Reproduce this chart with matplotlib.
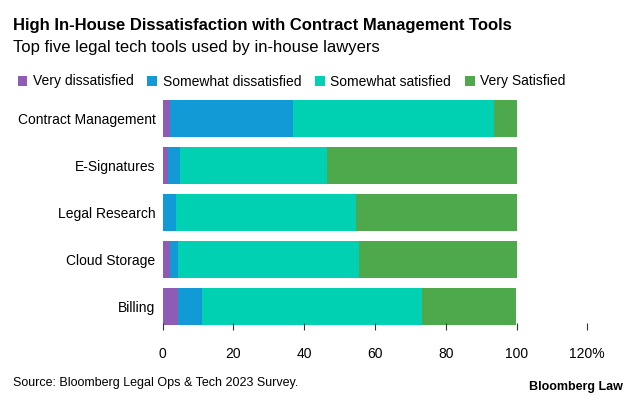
import matplotlib.pyplot as plt

tools = ["Contract Management", "E-Signatures", "Legal Research", "Cloud Storage", "Billing"]
very_dis = [2.1, 1.6, 0.0, 2.1, 4.3]
some_dis = [34.8, 3.3, 3.8, 2.2, 6.8]
some_sat = [56.7, 41.7, 51.0, 51.3, 62.3]
very_sat = [6.4, 53.4, 45.2, 44.4, 26.6]
labels = ["Very dissatisfied", "Somewhat dissatisfied", "Somewhat satisfied", "Very Satisfied"]
colors = ["#8e5bb5", "#119ad6", "#00d1b2", "#4ea94d"]

plt.rcParams['font.family'] = ['Liberation Sans', 'DejaVu Sans']
fig = plt.figure(figsize=(6.33, 4.01), dpi=100)
ax = fig.add_axes([162.5 / 633, 1 - 330 / 401, (587.3 - 162.5) / 633, (330 - 95) / 401])

y = list(range(len(tools)))[::-1]
left = [0] * len(tools)
for vals, lab, c in zip([very_dis, some_dis, some_sat, very_sat], labels, colors):
    ax.barh(y, vals, left=left, color=c, height=0.8, label=lab)
    left = [a + b for a, b in zip(left, vals)]

ax.set_xlim(0, 120)
ax.set_ylim(-0.5, 4.5)
ax.set_yticks(y)
ax.set_yticklabels(tools, fontsize=10)
ax.set_xticks([0, 20, 40, 60, 80, 100, 120])
ax.set_xticklabels(["0", "20", "40", "60", "80", "100", "120%"], fontsize=10)
for s in ax.spines.values():
    s.set_visible(False)
ax.tick_params(axis='y', length=0, pad=5)
ax.tick_params(axis='x', length=5, color="#333333", pad=12, direction='in')

fig.text(13 / 633, 1 - 30 / 401, "High In-House Dissatisfaction with Contract Management Tools",
         fontsize=12, fontweight='bold')
fig.text(13 / 633, 1 - 52 / 401, "Top five legal tech tools used by in-house lawyers", fontsize=12)
handles, labs = ax.get_legend_handles_labels()
fig.legend(handles, labs, loc='upper left', bbox_to_anchor=(5 / 633, 1 - 62 / 401), ncol=4,
           frameon=False, fontsize=10, handlelength=0.7, handleheight=0.7,
           handletextpad=0.4, columnspacing=1.0)
fig.text(13 / 633, 1 - 386 / 401, "Source: Bloomberg Legal Ops & Tech 2023 Survey.", fontsize=9)
fig.text(623 / 633, 1 - 390 / 401, "Bloomberg Law", fontsize=9, fontweight='bold', ha='right')

fig.savefig("out.png", dpi=100)
